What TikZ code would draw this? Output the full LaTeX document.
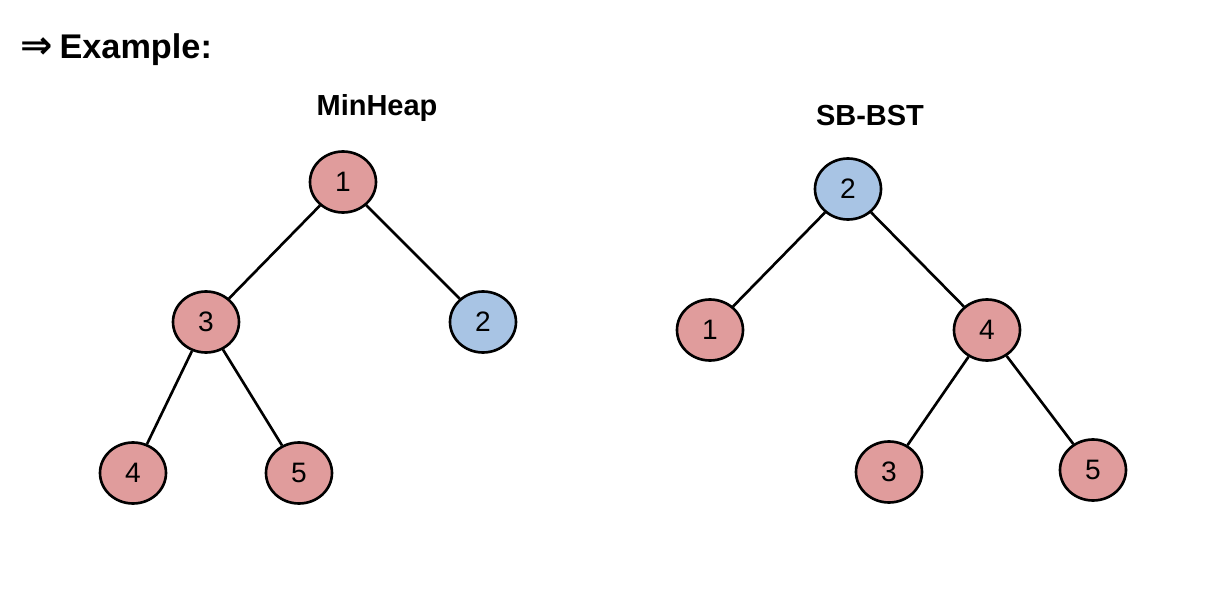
\documentclass[tikz,border=0pt]{standalone}
\usepackage{fontspec}
\setmainfont{Liberation Sans}
\newfontfamily\arrowfont{DejaVu Sans}
\usepackage{xcolor}
\usepackage{tikz}
\usetikzlibrary{shapes.geometric}

\definecolor{heapred}{HTML}{E09C9C}
\definecolor{heapblue}{HTML}{A8C4E4}

\tikzset{
	treenode/.style={ellipse, draw=black, line width=1.5pt, fill=heapred,
		minimum width=1.32cm, minimum height=1.22cm, inner sep=0pt, font=\fontsize{16}{18}\selectfont},
	movednode/.style={treenode, fill=heapblue},
	treeedge/.style={line width=1.5pt},
	treetitle/.style={font=\bfseries\fontsize{16.5}{20}\selectfont}
}

\begin{document}
\begin{tikzpicture}[x=0.02cm, y=-0.02cm]
		\useasboundingbox (0,0) rectangle (1208,612);

		% Heading
		\node[anchor=base west, inner sep=0pt, font=\bfseries\fontsize{19.5}{24}\selectfont] (heading) at (20,58)
			{{\arrowfont\bfseries\fontsize{22}{24}\selectfont ⇒}\hspace{0.2em}Example:};

		% MinHeap
		\node[treetitle] (heaptitle) at (377,108) {MinHeap};
		\node[treenode] (h1) at (343,182) {1};
		\node[treenode] (h3) at (206,322) {3};
		\node[movednode] (h2) at (483,322) {2};
		\node[treenode] (h4) at (133,473) {4};
		\node[treenode] (h5) at (299,473) {5};

		\draw[treeedge] (h1) -- (h3);
		\draw[treeedge] (h1) -- (h2);
		\draw[treeedge] (h3) -- (h4);
		\draw[treeedge] (h3) -- (h5);

		% SB-BST
		\node[treetitle] (bsttitle) at (870,116) {SB-BST};
		\node[movednode] (b2) at (848,189) {2};
		\node[treenode] (b1) at (710,330) {1};
		\node[treenode] (b4) at (987,330) {4};
		\node[treenode] (b3) at (889,472) {3};
		\node[treenode] (b5) at (1093,470) {5};

		\draw[treeedge] (b2) -- (b1);
		\draw[treeedge] (b2) -- (b4);
		\draw[treeedge] (b4) -- (b3);
		\draw[treeedge] (b4) -- (b5);
	\end{tikzpicture}
\end{document}
